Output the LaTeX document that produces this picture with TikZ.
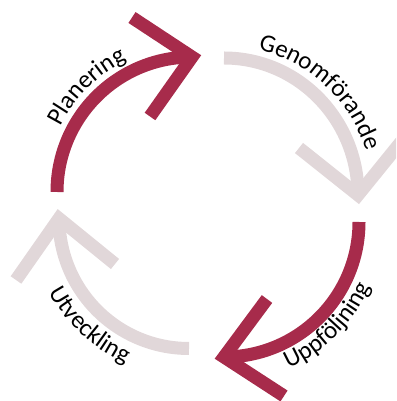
\documentclass[tikz,border=0pt]{standalone}
\usepackage{fontspec}
\setmainfont{Carlito}
\usetikzlibrary{decorations.text}
\definecolor{cycred}{RGB}{167,43,75}
\definecolor{cycgrey}{RGB}{225,215,217}
\newcommand\lblfont{\fontsize{25}{30}\selectfont}
\begin{document}
\begin{tikzpicture}[x=1pt,y=1pt,
  band/.style={line width=13pt, line cap=butt},
  head/.style={line width=13pt, line cap=butt, line join=miter, miter limit=10},
  lbl/.style={decorate, decoration={text along path, text align=center, text={#1}}}]
\useasboundingbox (0,0) rectangle (396,401);
\clip (0,0) rectangle (396,401);

% centres of the four quarter arcs
\coordinate (cP) at (192,209);
\coordinate (cG) at (224,206);
\coordinate (cU) at (224,179);
\coordinate (cV) at (189,182.5);

% Planering
\coordinate (pS) at (57,209);
\coordinate (pV) at (192,344);
\coordinate (pA) at (132,383.5);
\coordinate (pB) at (150,284.5);
\draw[band, cycred] (pS) arc[start angle=180, end angle=90, radius=135pt];
\draw[head, cycred] (pA) -- (pV) -- (pB);
\path[lbl={|\lblfont|Planering}] (cP) ++(180:147pt) arc[start angle=180, end angle=90, radius=147pt];

% Genomförande
\coordinate (gS) at (224,343);
\coordinate (gV) at (358,206);
\coordinate (gA) at (299,253);
\coordinate (gB) at (405,264);
\draw[band, cycgrey] (gS) arc[start angle=90, end angle=0, x radius=134pt, y radius=137pt];
\draw[head, cycgrey] (gA) -- (gV) -- (gB);
\path[lbl={|\lblfont|Genomförande}] (cG) ++(92:149pt) arc[start angle=92, end angle=2, radius=149pt];

% Uppföljning
\coordinate (uS) at (359,179);
\coordinate (uV) at (224,44);
\coordinate (uA) at (267,102);
\coordinate (uB) at (284,5);
\draw[band, cycred] (uS) arc[start angle=0, end angle=-90, radius=135pt];
\draw[head, cycred] (uA) -- (uV) -- (uB);
\path[lbl={|\lblfont|Uppföljning}] (cU) ++(-90:160pt) arc[start angle=-90, end angle=0, radius=160pt];

% Utveckling
\coordinate (vS) at (189,52.5);
\coordinate (vV) at (59,182.5);
\coordinate (vA) at (16,121);
\coordinate (vB) at (115,137);
\draw[band, cycgrey] (vS) arc[start angle=-90, end angle=-180, radius=130pt];
\draw[head, cycgrey] (vA) -- (vV) -- (vB);
\path[lbl={|\lblfont|Utveckling}] (cV) ++(-178:158pt) arc[start angle=-178, end angle=-88, radius=158pt];
\end{tikzpicture}
\end{document}
